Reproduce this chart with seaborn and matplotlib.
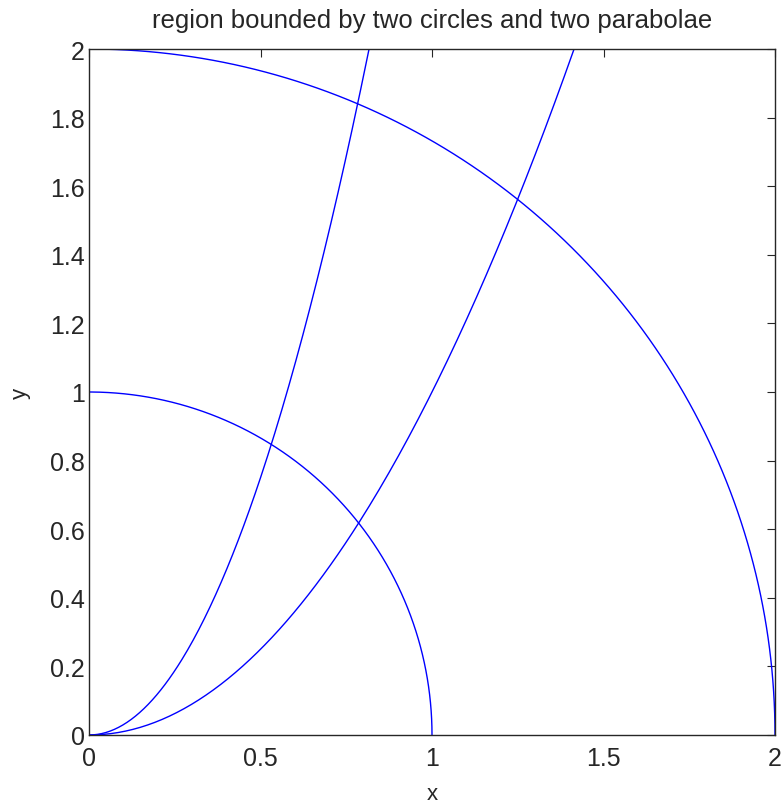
import numpy as np
import pandas as pd
import matplotlib
matplotlib.use("Agg")
import matplotlib.pyplot as plt
import seaborn as sns
from matplotlib.ticker import FuncFormatter

# curve parameters
circle_radii = [1.0, 2.0]          # x^2 + y^2 = r^2, first quadrant
parabola_coefs = [1.0, 3.0]        # y = k * x^2, drawn up to y = 2
y_top = 2.0
x_ticks = [0, 0.5, 1, 1.5, 2]
y_ticks = [0, 0.2, 0.4, 0.6, 0.8, 1, 1.2, 1.4, 1.6, 1.8, 2]
title = "region bounded by two circles and two parabolae"

sns.set_style("white")
plt.rcParams['font.family'] = ['Liberation Sans', 'DejaVu Sans']

fig = plt.figure(figsize=(7.81, 8.03), dpi=100)
ax = fig.add_axes([89 / 781, 67 / 803, 686 / 781, 686 / 803])

blue = (0, 0, 1)
for r in circle_radii:
    t = np.linspace(0, np.pi / 2, 200)
    df = pd.DataFrame({'x': r * np.cos(t), 'y': r * np.sin(t)})
    sns.lineplot(data=df, x='x', y='y', sort=False, estimator=None,
                 color=blue, linewidth=1.0, ax=ax)
for k in parabola_coefs:
    xs = np.linspace(0, np.sqrt(y_top / k), 200)
    df = pd.DataFrame({'x': xs, 'y': k * xs ** 2})
    sns.lineplot(data=df, x='x', y='y', sort=False, estimator=None,
                 color=blue, linewidth=1.0, ax=ax)

ax.set_xlim(0, 2)
ax.set_ylim(0, 2)
ax.set_xticks(x_ticks)
ax.set_yticks(y_ticks)
fmt = FuncFormatter(lambda v, p: f"{v:g}")
ax.xaxis.set_major_formatter(fmt)
ax.yaxis.set_major_formatter(fmt)
ax.tick_params(direction='in', length=6, width=0.8, colors='#262626',
               labelsize=18, labelcolor='#262626', top=True, right=True)
ax.tick_params(axis='x', pad=8)
ax.tick_params(axis='y', pad=3)
for s in ax.spines.values():
    s.set_color('#262626')
    s.set_linewidth(1.0)

ax.set_xlabel('x', fontsize=16, color='#262626', labelpad=9)
ax.set_ylabel('y', fontsize=16, color='#262626', labelpad=14)
ax.set_title(title, fontsize=18.5, color='#262626', pad=16)

fig.savefig('out.png', dpi=100)
